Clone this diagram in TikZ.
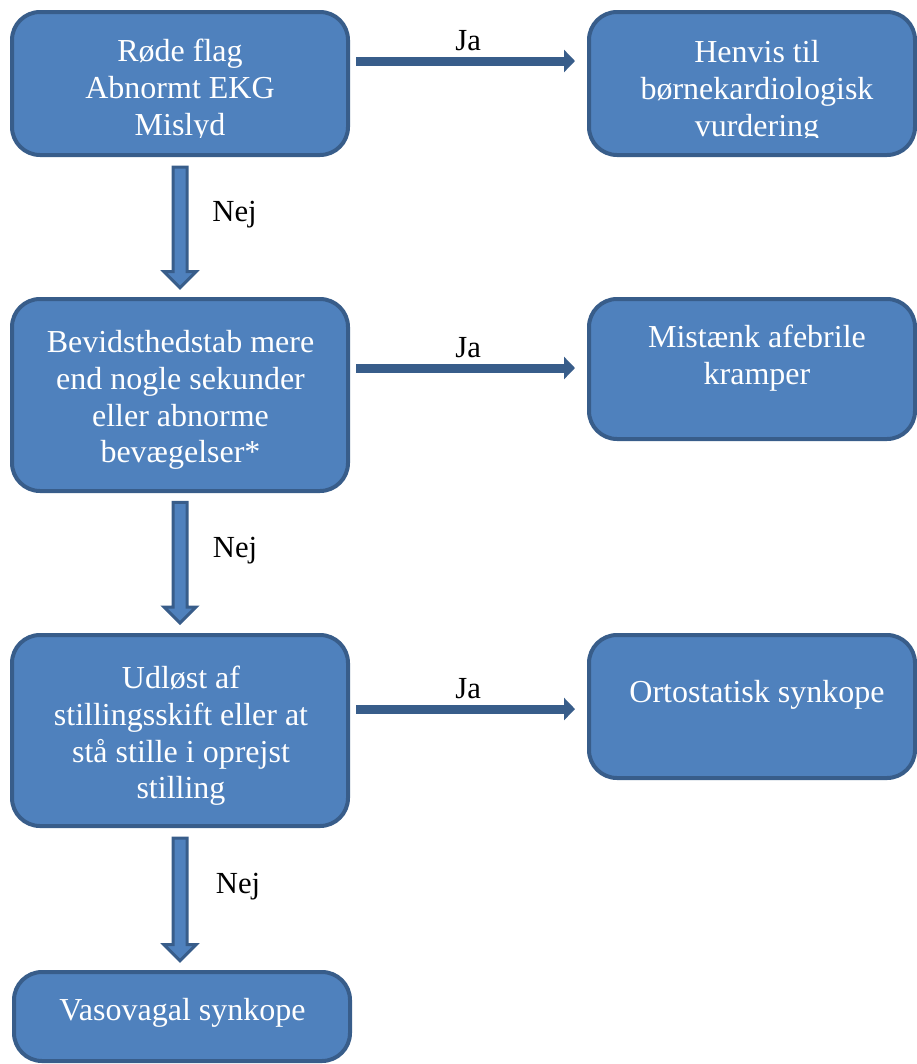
\documentclass[tikz,border=0pt]{standalone}
\usepackage{fontspec}
\setmainfont{Liberation Serif}
\usetikzlibrary{arrows.meta,calc}
\definecolor{boxfill}{HTML}{4F81BD}
\definecolor{boxline}{HTML}{385D8A}
\begin{document}
\begin{tikzpicture}[x=0.75pt,y=-0.75pt,
  box/.style={draw=boxline, fill=boxfill, line width=3pt, rounded corners=21pt, minimum width=252pt, inner sep=0pt},
  rbox/.style={box, minimum width=244.5pt},
  txt/.style={text=white, font=\fontsize{24}{27.5}\selectfont, align=center, anchor=north, inner sep=0pt},
  lbl/.style={text=black, font=\fontsize{23}{27}\selectfont, inner sep=0pt, anchor=base},
  harrow/.style={draw=boxline, line width=6.75pt, -{Triangle[length=8.25pt, width=16.5pt]}},
  vblk/.style={draw=boxline, fill=boxfill, line width=2.25pt, line join=miter}
]
\useasboundingbox (0,0) rectangle (917,1064);

% boxes
\node[box, minimum height=107.25pt] (b1) at (180,83.5) {};
\node[rbox, minimum height=107.25pt] (b2) at (752,83.5) {};
\node[box, minimum height=144pt] (b3) at (180,395) {};
\node[rbox, minimum height=105pt] (b4) at (752,369) {};
\node[box, minimum height=143.25pt] (b5) at (180,730.5) {};
\node[rbox, minimum height=107.25pt] (b6) at (752,706.5) {};
\node[box, minimum height=66.75pt] (b7) at (182,1016.5) {};

% texts
\begin{scope}
\clip (0,0) rectangle (917,137);
\node[txt] (t1) at (180,35.8) {\strut Røde flag\\Abnormt EKG\\Mislyd};
\node[txt] (t2) at (757,36.8) {\strut Henvis til\\børnekardiologisk\\vurdering};
\end{scope}
\node[txt] (t3) at (180.5,326.8) {\strut Bevidsthedstab mere\\end nogle sekunder\\eller abnorme\\bevægelser*};
\node[txt] (t4) at (757,321.8) {\strut Mistænk afebrile\\kramper};
\node[txt] (t5) at (181,662.8) {\strut Udløst af\\stillingsskift eller at\\stå stille i oprejst\\stilling};
\node[txt] (t6) at (757,676.8) {\strut Ortostatisk synkope};
\node[txt] (t7) at (182.5,994.8) {\strut Vasovagal synkope};

% horizontal arrows
\draw[harrow] ($(b1.east)+(4.5pt,16.875pt)$) -- ($(b1.east -| b2.west)+(-9pt,16.875pt)$)
  node[lbl, midway, xshift=2pt, yshift=8pt] (ja1) {Ja};
\draw[harrow] ($(b3.east)+(4.5pt,20.25pt)$) -- ($(b3.east -| b4.west)+(-9pt,20.25pt)$)
  node[lbl, midway, xshift=2pt, yshift=8pt] (ja2) {Ja};
\draw[harrow] ($(b5.east)+(4.5pt,16.1pt)$) -- ($(b5.east -| b6.west)+(-9pt,16.1pt)$)
  node[lbl, midway, xshift=2pt, yshift=8pt] (ja3) {Ja};

% vertical block arrows
\draw[vblk] let \p1=(b1.south), \p2=(b3.north) in
  (\x1-5.25pt,\y1-7.5pt) -- (\x1+5.25pt,\y1-7.5pt) -- (\x1+5.25pt,\y2+19pt) -- (\x1+12pt,\y2+19pt)
  -- (\x1,\y2+7pt) -- (\x1-12pt,\y2+19pt) -- (\x1-5.25pt,\y2+19pt) -- cycle;
\draw[vblk] let \p1=(b3.south), \p2=(b5.north) in
  (\x1-5.25pt,\y1-7pt) -- (\x1+5.25pt,\y1-7pt) -- (\x1+5.25pt,\y2+19.5pt) -- (\x1+12pt,\y2+19.5pt)
  -- (\x1,\y2+7.5pt) -- (\x1-12pt,\y2+19.5pt) -- (\x1-5.25pt,\y2+19.5pt) -- cycle;
\draw[vblk] let \p1=(b5.south), \p2=(b7.north) in
  (\x1-5.25pt,\y1-7.5pt) -- (\x1+5.25pt,\y1-7.5pt) -- (\x1+5.25pt,\y2+19pt) -- (\x1+12pt,\y2+19pt)
  -- (\x1,\y2+7pt) -- (\x1-12pt,\y2+19pt) -- (\x1-5.25pt,\y2+19pt) -- cycle;

% Nej labels
\node[lbl] (nej1) at (234.5,221) {Nej};
\node[lbl] (nej2) at (235,557) {Nej};
\node[lbl] (nej3) at (238,893) {Nej};
\end{tikzpicture}
\end{document}
